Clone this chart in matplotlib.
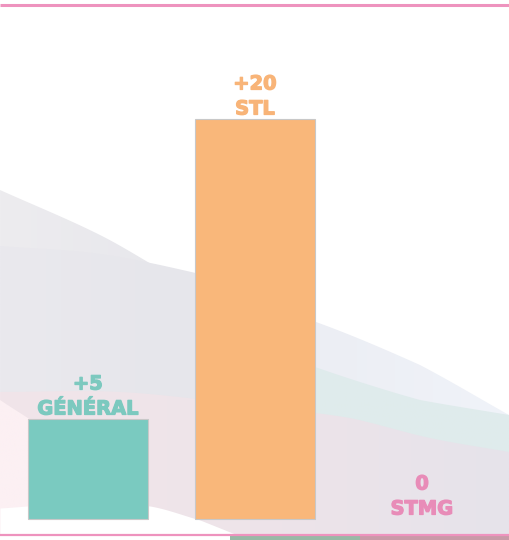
import numpy as np
import matplotlib
matplotlib.use("Agg")
import matplotlib.pyplot as plt
import matplotlib.patheffects as pe
from matplotlib.patches import Polygon
from matplotlib.colors import to_rgb

categories = ["GÉNÉRAL", "STL", "STMG"]
values = [5, 20, 0]
value_labels = ["+5", "+20", "0"]
bar_colors = ["#7ACAC0", "#F9B77A", "#E88CB8"]
label_colors = ["#7CC9BF", "#F8B478", "#E88CB8"]

W, H = 509, 540
fig = plt.figure(figsize=(W / 100, H / 100), dpi=100)
fig.patch.set_facecolor("white")

# decorative background (pixel coordinates)
bg = fig.add_axes([0, 0, 1, 1])
bg.set_xlim(0, W)
bg.set_ylim(H, 0)
bg.axis("off")

def smooth(px, py, n=300):
    px = np.asarray(px, float); py = np.asarray(py, float)
    x = np.linspace(px[0], px[-1], n)
    y = np.zeros_like(x)
    P = np.concatenate([[2 * py[0] - py[1]], py, [2 * py[-1] - py[-2]]])
    for k in range(len(px) - 1):
        m = (x >= px[k]) & (x <= px[k + 1])
        t = (x[m] - px[k]) / (px[k + 1] - px[k])
        p0, p1, p2, p3 = P[k], P[k + 1], P[k + 2], P[k + 3]
        y[m] = 0.5 * ((2 * p1) + (-p0 + p2) * t + (2 * p0 - 5 * p1 + 4 * p2 - p3) * t ** 2
                      + (-p0 + 3 * p1 - 3 * p2 + p3) * t ** 3)
    return x, y

def grad_band(xc, yc, stops, bottom=534, z=0):
    verts = np.vstack([np.column_stack([xc, yc]), [[xc[-1], bottom], [xc[0], bottom]]])
    poly = Polygon(verts, closed=True, transform=bg.transData, facecolor="none", edgecolor="none")
    bg.add_patch(poly)
    pos = [s[0] for s in stops]
    cols = np.array([to_rgb(s[1]) for s in stops])
    xs = np.linspace(0, W, 300)
    row = np.column_stack([np.interp(xs, pos, cols[:, c]) for c in range(3)])
    img = np.repeat(row[None, :, :], 2, axis=0)
    im = bg.imshow(img, extent=[0, W, H, 0], aspect="auto", zorder=z, interpolation="bilinear")
    im.set_clip_path(poly)

x, t1 = smooth([0, 100, 200, 316, 420, 509], [190, 235, 290, 322, 365, 415])
grad_band(x, t1, [(0, "#EDECEF"), (180, "#E7E7EC"), (320, "#ECEEF4"), (509, "#F0F3F9")], z=1)
x, t2 = smooth([0, 100, 200, 316], [246, 254, 274, 300])
grad_band(x, t2, [(0, "#EAE9EE"), (180, "#E6E6EB"), (320, "#E9EAF0"), (509, "#E9EAF0")], z=1.1)
x, t3 = smooth([300, 360, 420, 509], [362, 382, 400, 415])
grad_band(x, t3, [(0, "#E0EBEC"), (509, "#DFECEC")], z=1.2)
x, t4 = smooth([0, 120, 250, 350, 430, 509], [392, 392, 405, 418, 438, 452])
grad_band(x, t4, [(0, "#F1E5EA"), (250, "#EEE4E9"), (509, "#E6E3EB")], z=1.3)
x, t5 = smooth([0, 60, 120, 170], [400, 440, 490, 534])
grad_band(x, t5, [(0, "#FCF0F3"), (509, "#FCF0F3")], z=1.4)
x, t6 = smooth([0, 80, 150, 200, 235], [508, 503, 506, 520, 534])
bg.fill_between(x, t6, 534, color="white", lw=0, zorder=1.5)
# bottom stripe
bg.fill_between([230, 360], [536, 536], [540, 540], color="#98B9A6", lw=0, zorder=2)
bg.fill_between([360, 509], [536, 536], [540, 540], color="#C99AA8", lw=0, zorder=2)
bg.plot([0, W], [5, 5], color="#EE93BE", lw=2.2, solid_capstyle="butt", zorder=3)
bg.plot([0, W], [534.5, 534.5], color="#EE93BE", lw=1.6, solid_capstyle="butt", zorder=3)
bg.set_xlim(0, W)
bg.set_ylim(H, 0)

# main chart
ax = fig.add_axes([0, 0, 1, 1])
ax.patch.set_alpha(0)
xpos = np.arange(len(categories))
edges = ["#C8C8C8" if v > 0 else "none" for v in values]
ax.bar(xpos, values, width=0.72, color=bar_colors, edgecolor=edges, linewidth=0.8, zorder=3)
ax.set_xlim(-88 / 167, (W - 88) / 167)
ax.set_ylim(-21 / 20, (H - 21) / 20)
ax.axis("off")

fp = dict(ha="center", va="center", fontsize=14, fontfamily="DejaVu Sans", fontweight="bold")
for i, (v, vl, cat) in enumerate(zip(values, value_labels, categories)):
    eff = [pe.withStroke(linewidth=0.9, foreground=label_colors[i])]
    ax.annotate(vl, (xpos[i], v), xytext=(0, 35 * 0.72), textcoords="offset points",
                color=label_colors[i], zorder=4, path_effects=eff, **fp)
    ax.annotate(cat, (xpos[i], v), xytext=(0, 10 * 0.72), textcoords="offset points",
                color=label_colors[i], zorder=4, path_effects=eff, **fp)

fig.savefig("out.png", dpi=100)
